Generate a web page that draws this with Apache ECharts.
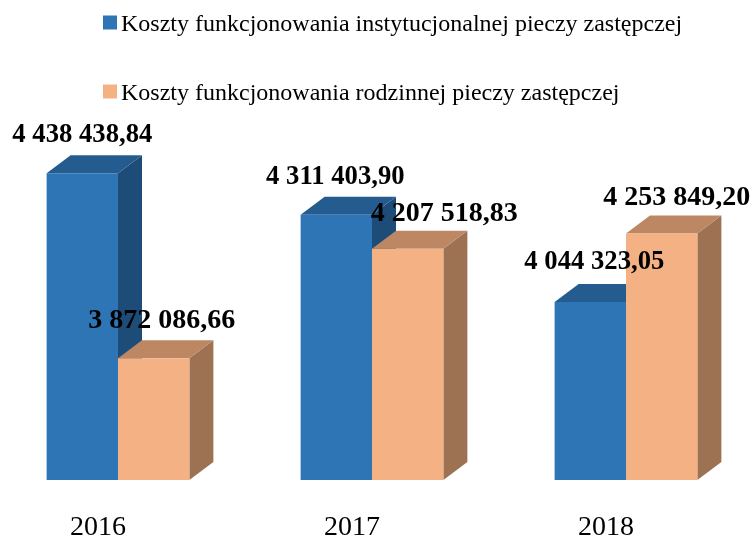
<!DOCTYPE html>
<html>
<head>
<meta charset="utf-8">
<title>Koszty funkcjonowania pieczy zastępczej</title>
<script src="https://cdn.jsdelivr.net/npm/echarts@6/dist/echarts.min.js"></script>
<style>
    html, body { margin: 0; padding: 0; background: #fff; }
    #chart { width: 752px; height: 538px; }
</style>
</head>
<body>
<div id="chart"></div>
<script>
var years = ['2016', '2017', '2018'];
var instytucjonalna = [4438438.84, 4311403.90, 4044323.05];
var rodzinna = [3872086.66, 4207518.83, 4253849.20];
var nameInst = 'Koszty funkcjonowania instytucjonalnej pieczy zastępczej';
var nameRodz = 'Koszty funkcjonowania rodzinnej pieczy zastępczej';

var serif = '"Liberation Serif", "Times New Roman", serif';
var depthX = 24, depthY = 18; // przesuniecie "3D"

function fmt(v) {
    var p = v.toFixed(2).split('.');
    return p[0].replace(/\B(?=(\d{3})+$)/g, ' ') + ',' + p[1];
}

function makeRender(side, colors, labelShift, labelSize) {
    return function (params, api) {
        var idx = api.value(0);
        var top = api.coord([idx, api.value(1)]);
        var base = api.coord([idx, 3500000]);
        var w = api.size([1, 0])[0] * 0.281;
        var x0 = side < 0 ? top[0] - w : top[0];
        var x1 = x0 + w;
        var y0 = top[1], y1 = base[1];
        var shift = labelShift[idx];
        return {
            type: 'group',
            children: [
                {
                    type: 'polygon',
                    shape: { points: [[x1, y0], [x1 + depthX, y0 - depthY], [x1 + depthX, y1 - depthY], [x1, y1]] },
                    style: { fill: colors.side }
                },
                {
                    type: 'polygon',
                    shape: { points: [[x0, y0], [x0 + depthX, y0 - depthY], [x1 + depthX, y0 - depthY], [x1, y0]] },
                    style: { fill: colors.top }
                },
                {
                    type: 'rect',
                    shape: { x: x0, y: y0, width: w, height: y1 - y0 },
                    style: { fill: colors.front }
                },
                {
                    type: 'text',
                    z2: 100,
                    style: {
                        x: (x0 + x1) / 2 + shift[0],
                        y: y0 + shift[1],
                        text: fmt(api.value(1)),
                        align: 'center',
                        verticalAlign: 'middle',
                        fill: '#000',
                        font: 'bold ' + labelSize + 'px ' + serif
                    }
                }
            ]
        };
    };
}

var chart = echarts.init(document.getElementById('chart'));
chart.setOption({
    animation: false,
    backgroundColor: '#fff',
    grid: { left: -9, top: 153, width: 762, height: 327, outerBoundsMode: 'none' },
    legend: {
        data: [nameInst, nameRodz],
        orient: 'vertical',
        left: 98,
        top: 7.5,
        icon: 'rect',
        itemWidth: 14,
        itemHeight: 14,
        itemGap: 45,
        formatter: function (name) { return '{a|' + name + '}'; },
        textStyle: {
            rich: {
                a: { fontFamily: serif, fontSize: 24, color: '#000', padding: [4, 0, 0, -1] }
            }
        }
    },
    xAxis: {
        type: 'category',
        data: years,
        axisLine: { show: false },
        axisTick: { show: false },
        axisLabel: {
            margin: 34,
            padding: [0, 40, 0, 0],
            fontFamily: serif,
            fontSize: 28,
            color: '#000'
        }
    },
    yAxis: { type: 'value', min: 3500000, max: 4500000, show: false },
    series: [
        {
            name: nameInst,
            type: 'custom',
            clip: false,
            itemStyle: { color: '#2E75B6' },
            encode: { x: 0, y: 1 },
            data: instytucjonalna.map(function (v, i) { return [i, v]; }),
            renderItem: makeRender(-1, { front: '#2E75B6', top: '#245C90', side: '#1D4C78' },
                [[0, -38], [-1, -38], [4, -40]], 26.67)
        },
        {
            name: nameRodz,
            type: 'custom',
            clip: false,
            itemStyle: { color: '#F4B183' },
            encode: { x: 0, y: 1 },
            data: rodzinna.map(function (v, i) { return [i, v]; }),
            renderItem: makeRender(1, { front: '#F4B183', top: '#BD8763', side: '#9C7253' },
                [[8, -38], [36.5, -35], [15, -36]], 28)
        }
    ]
});
</script>
</body>
</html>
